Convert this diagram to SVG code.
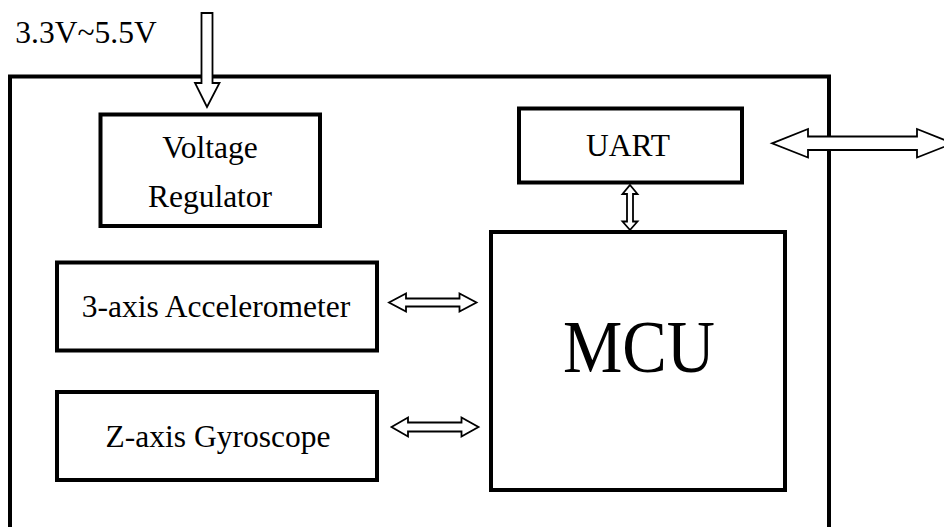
<svg xmlns="http://www.w3.org/2000/svg" width="944" height="527" viewBox="0 0 944 527">
<style>
.box{fill:#fff;stroke:#000;stroke-width:4}
.arr{fill:#fff;stroke:#000;stroke-width:1.8;stroke-linejoin:miter}
text{font-family:"Liberation Serif","Times New Roman",serif;fill:#000;text-anchor:middle}
.lbl{font-size:31.5px}
</style>
<rect width="944" height="527" fill="#fff"/>
<g id="outer"><rect class="box" x="10" y="76.5" width="819" height="480" fill="none"/></g>
<text x="86" y="43" class="lbl">3.3V~5.5V</text>
<g id="regulator">
<rect class="box" x="100.5" y="114.5" width="219.5" height="111.5"/>
<text class="lbl" x="210" y="158">Voltage</text>
<text class="lbl" x="210" y="207">Regulator</text>
</g>
<g id="uart">
<rect class="box" x="519" y="108.5" width="223" height="74"/>
<text class="lbl" x="628" y="156">UART</text>
</g>
<g id="accelerometer">
<rect class="box" x="57" y="262.5" width="320" height="88"/>
<text class="lbl" x="216" y="317">3-axis Accelerometer</text>
</g>
<g id="gyroscope">
<rect class="box" x="57" y="392" width="320" height="88"/>
<text class="lbl" x="218" y="447">Z-axis Gyroscope</text>
</g>
<g id="mcu">
<rect class="box" x="491" y="232" width="294" height="258"/>
<text x="639" y="372" font-size="74" textLength="152" lengthAdjust="spacingAndGlyphs">MCU</text>
</g>
<g id="connectors">
<path class="arr" d="M201.5,13 L212.5,13 L212.5,83 L219.5,83 L207,107 L195,83 L201.5,83 Z"/>
<path class="arr" d="M772,143.3 L808,129 L808,136.5 L917,136.5 L917,129 L953,143.3 L917,157.5 L917,150 L808,150 L808,157.5 Z"/>
<path class="arr" d="M389,302.5 L406,293.5 L406,298.5 L459.5,298.5 L459.5,293.5 L476.5,302.5 L459.5,311.5 L459.5,306.5 L406,306.5 L406,311.5 Z"/>
<path class="arr" d="M391.5,427 L408,417.5 L408,422.5 L461.5,422.5 L461.5,417.5 L478.5,427 L461.5,436.5 L461.5,431.5 L408,431.5 L408,436.5 Z"/>
<path class="arr" d="M630,185 L637.5,194 L633,194 L633,221.5 L637.5,221.5 L630,230 L622.5,221.5 L627,221.5 L627,194 L622.5,194 Z"/>
</g>
</svg>
